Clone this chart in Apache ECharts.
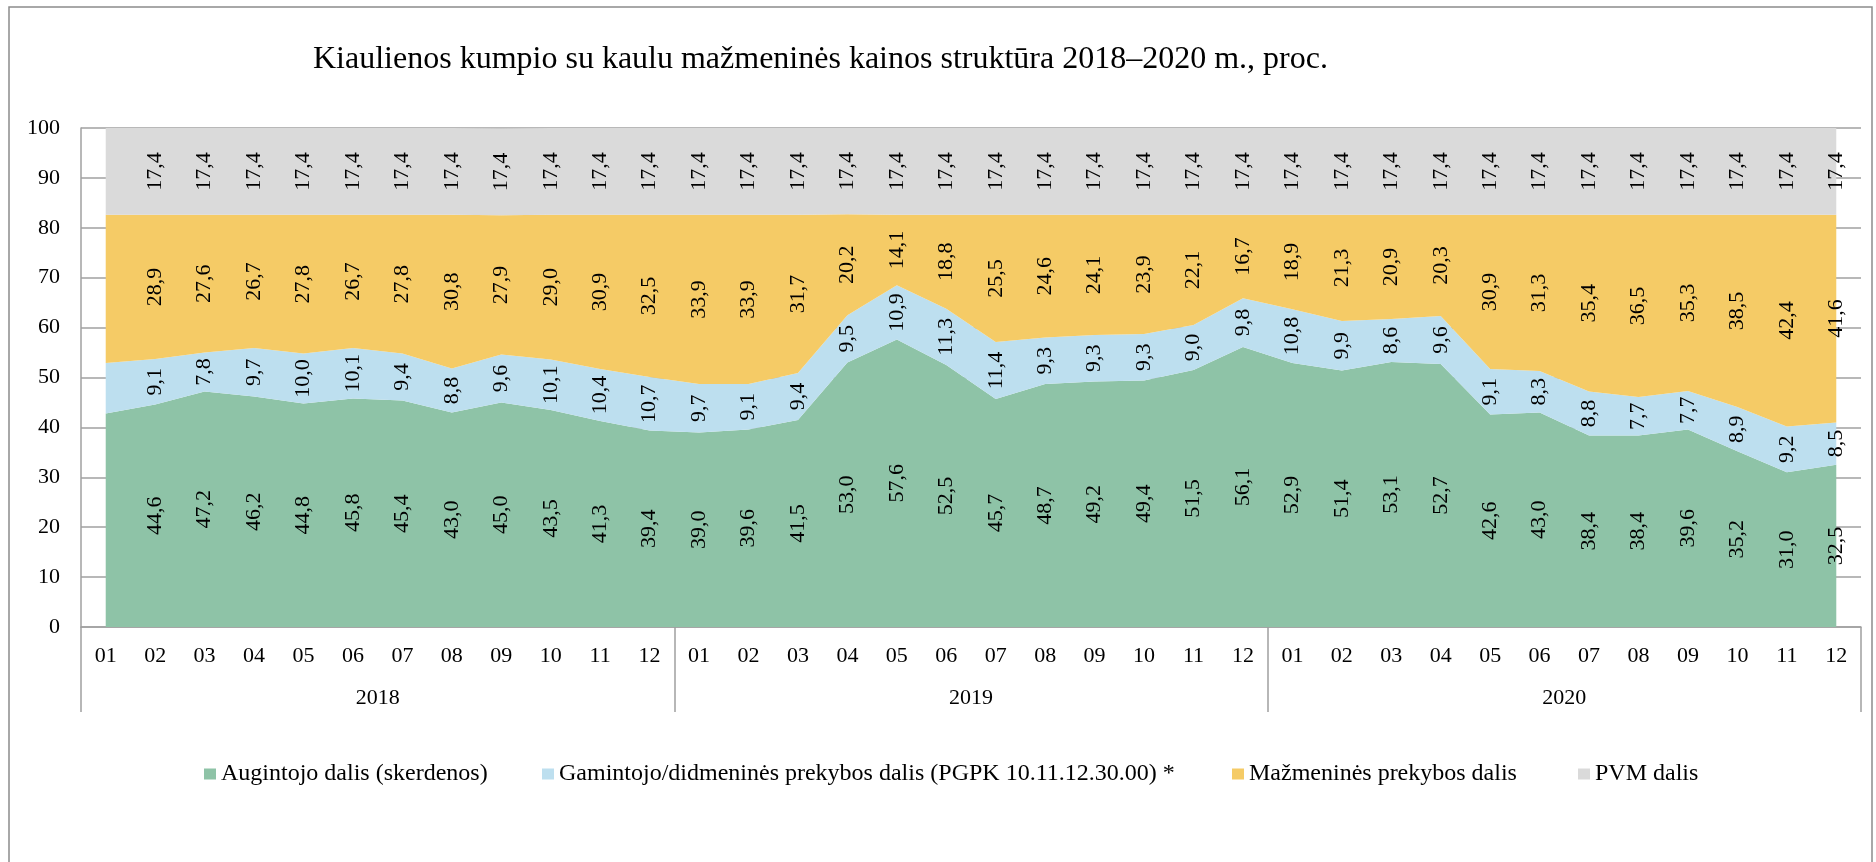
<!DOCTYPE html>
<html>
<head>
<meta charset="utf-8">
<script src="https://cdn.jsdelivr.net/npm/echarts@6/dist/echarts.min.js"></script>
<style>
  html, body { margin: 0; padding: 0; background: #fff; }
  #grafico { width: 1876px; height: 862px; }
</style>
</head>
<body>
<div id="grafico"></div>
<script>
// DATOS
const months = ["01", "02", "03", "04", "05", "06", "07", "08", "09", "10", "11", "12",
  "01", "02", "03", "04", "05", "06", "07", "08", "09", "10", "11", "12",
  "01", "02", "03", "04", "05", "06", "07", "08", "09", "10", "11", "12"];
const years = ["2018", "2019", "2020"];

const augintojo = [42.8, 44.6, 47.2, 46.2, 44.8, 45.8, 45.4, 43.0, 45.0, 43.5, 41.3, 39.4,
  39.0, 39.6, 41.5, 53.0, 57.6, 52.5, 45.7, 48.7, 49.2, 49.4, 51.5, 56.1,
  52.9, 51.4, 53.1, 52.7, 42.6, 43.0, 38.4, 38.4, 39.6, 35.2, 31.0, 32.5];
const gamintojo = [10.1, 9.1, 7.8, 9.7, 10.0, 10.1, 9.4, 8.8, 9.6, 10.1, 10.4, 10.7,
  9.7, 9.1, 9.4, 9.5, 10.9, 11.3, 11.4, 9.3, 9.3, 9.3, 9.0, 9.8,
  10.8, 9.9, 8.6, 9.6, 9.1, 8.3, 8.8, 7.7, 7.7, 8.9, 9.2, 8.5];
const mazmenines = [29.7, 28.9, 27.6, 26.7, 27.8, 26.7, 27.8, 30.8, 27.9, 29.0, 30.9, 32.5,
  33.9, 33.9, 31.7, 20.2, 14.1, 18.8, 25.5, 24.6, 24.1, 23.9, 22.1, 16.7,
  18.9, 21.3, 20.9, 20.3, 30.9, 31.3, 35.4, 36.5, 35.3, 38.5, 42.4, 41.6];
const pvm = [17.4, 17.4, 17.4, 17.4, 17.4, 17.4, 17.4, 17.4, 17.4, 17.4, 17.4, 17.4,
  17.4, 17.4, 17.4, 17.4, 17.4, 17.4, 17.4, 17.4, 17.4, 17.4, 17.4, 17.4,
  17.4, 17.4, 17.4, 17.4, 17.4, 17.4, 17.4, 17.4, 17.4, 17.4, 17.4, 17.4];

const names = [
  "Augintojo dalis (skerdenos)",
  "Gamintojo/didmeninės prekybos dalis (PGPK 10.11.12.30.00) *",
  "Mažmeninės prekybos dalis",
  "PVM dalis"
];
const colors = ["#8EC3A7", "#BDDFEF", "#F5CB66", "#DADADA"];
const layers = [augintojo, gamintojo, mazmenines, pvm];
const legendLeft = [204, 542, 1232, 1578];

const FONT = "Liberation Serif";
const GRID = "#A0A0A0";

function areaSeries(i) {
  return {
    name: names[i],
    type: "line",
    stack: "total",
    data: layers[i],
    symbol: "none",
    color: colors[i],
    lineStyle: { width: 0, color: colors[i] },
    areaStyle: { color: colors[i], opacity: 1 },
    silent: true,
    z: 2
  };
}

// barras transparentes solo para centrar las etiquetas en cada banda
function labelSeries(i) {
  return {
    name: "lbl" + i,
    type: "bar",
    stack: "labels",
    barWidth: 30,
    data: layers[i].map((v, k) => ({
      value: v,
      label: { show: k !== 0 }
    })),
    itemStyle: { color: "rgba(0,0,0,0)" },
    label: {
      show: true,
      position: "inside",
      rotate: 90,
      fontFamily: FONT,
      fontSize: 22,
      color: "#000",
      formatter: p => p.value.toFixed(1).replace(".", ",")
    },
    silent: true,
    z: 5
  };
}

// una leyenda por elemento, como en Excel
function legendItem(i) {
  return {
    data: [names[i]],
    left: legendLeft[i],
    top: 762,
    padding: 0,
    icon: "rect",
    itemWidth: 12,
    itemHeight: 11,
    selectedMode: false,
    textStyle: { fontFamily: FONT, fontSize: 24, color: "#000" }
  };
}

let options = {
  animation: false,
  textStyle: { fontFamily: FONT },
  title: {
    text: "Kiaulienos kumpio su kaulu mažmeninės kainos struktūra 2018–2020 m., proc.",
    left: 313,
    top: 44,
    padding: 0,
    textStyle: { fontFamily: FONT, fontSize: 32, fontWeight: "normal", color: "#000" }
  },
  graphic: [{
    type: "rect",
    shape: { x: 9, y: 7, width: 1863, height: 900 },
    style: { fill: "none", stroke: "#8C8C8C", lineWidth: 1.5 },
    silent: true
  }],
  legend: [0, 1, 2, 3].map(legendItem),
  grid: { left: 81, right: 15, top: 128, bottom: 235 },
  xAxis: [
    {
      type: "category",
      data: months,
      boundaryGap: true,
      axisLine: { lineStyle: { color: GRID, width: 1.5 } },
      axisTick: { show: false },
      axisLabel: { interval: 0, margin: 18, fontFamily: FONT, fontSize: 22, color: "#000" }
    },
    {
      type: "category",
      data: years,
      position: "bottom",
      boundaryGap: true,
      axisLine: { show: false },
      axisTick: { show: true, interval: 0, length: 85, lineStyle: { color: GRID, width: 1.5 } },
      axisLabel: { interval: 0, margin: 60, fontFamily: FONT, fontSize: 22, color: "#000" }
    }
  ],
  yAxis: {
    type: "value",
    min: 0,
    max: 100,
    interval: 10,
    axisLine: { show: true, lineStyle: { color: GRID, width: 1.5 } },
    axisTick: { show: false },
    axisLabel: { margin: 21, fontFamily: FONT, fontSize: 22, color: "#000" },
    splitLine: { show: true, lineStyle: { color: GRID, width: 1.5 } }
  },
  series: [0, 1, 2, 3].map(areaSeries).concat([0, 1, 2, 3].map(labelSeries))
};

let chart = echarts.init(document.getElementById("grafico"));
chart.setOption(options);
</script>
</body>
</html>
